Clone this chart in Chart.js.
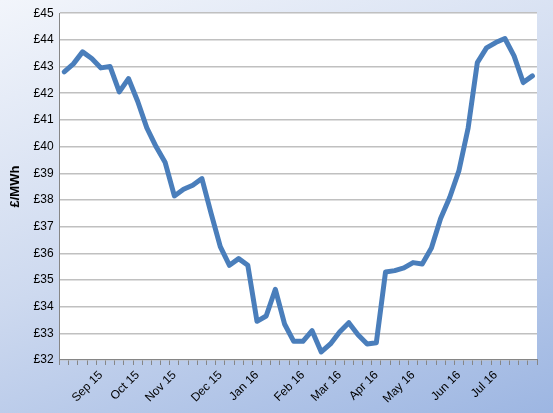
<!doctype html>
<html>
  <head>
    <script src="https://cdn.jsdelivr.net/npm/chart.js"></script>
    <style>
      html, body { margin: 0; padding: 0; }
      body {
        width: 553px; height: 413px; overflow: hidden;
        background: linear-gradient(160deg, #f2f5fb 0%, #cdd9ef 50%, #9db6e2 100%);
      }
      canvas { display: block; width: 553px; height: 413px; }
    </style>
  </head>
  <body>
    <canvas id="chart" width="553" height="413"></canvas>
    <script>
      const monthLabels = { 4: 'Sep 15', 8: 'Oct 15', 12: 'Nov 15', 17: 'Dec 15', 21: 'Jan 16', 26: 'Feb 16',
        30: 'Mar 16', 34: 'Apr 16', 38: 'May 16', 43: 'Jun 16', 47: 'Jul 16' };
      const prices = [42.8, 43.1, 43.55, 43.3, 42.95, 43.0, 42.05, 42.55, 41.7, 40.7, 40.0, 39.4, 38.15,
        38.4, 38.55, 38.8, 37.5, 36.25, 35.55, 35.8, 35.55, 33.45, 33.65, 34.65, 33.35, 32.7, 32.7, 33.1,
        32.3, 32.6, 33.05, 33.4, 32.95, 32.6, 32.65, 35.3, 35.35, 35.45, 35.65, 35.6, 36.2, 37.3, 38.1,
        39.1, 40.7, 43.15, 43.7, 43.9, 44.05, 43.4, 42.4, 42.65];
      const labels = prices.map((_, i) => monthLabels[i] || '');

      const plotBg = {
        id: 'plotBg',
        beforeDraw(chart) {
          const { ctx, chartArea: a } = chart;
          ctx.save();
          ctx.fillStyle = '#ffffff';
          ctx.fillRect(a.left, a.top, a.right - a.left, a.bottom - a.top);
          ctx.restore();
        },
      };

      new Chart(document.getElementById('chart'), {
        type: 'line',
        data: {
          labels: labels,
          datasets: [{
            data: prices,
            borderColor: '#4a7ebb',
            borderWidth: 5,
            pointRadius: 0,
            tension: 0,
            borderJoinStyle: 'round',
            borderCapStyle: 'round',
          }],
        },
        options: {
          responsive: false,
          animation: false,
          devicePixelRatio: 1,
          layout: { padding: { top: 9, right: 16, left: 4, bottom: 4 } },
          plugins: { legend: { display: false }, tooltip: { enabled: false } },
          scales: {
            x: {
              offset: true,
              grid: { offset: true, drawOnChartArea: false, tickLength: 5, tickColor: '#868686' },
              border: { color: '#868686' },
              ticks: {
                autoSkip: false, maxRotation: 45, minRotation: 45,
                color: '#000', font: { family: 'Liberation Sans', size: 12 },
              },
            },
            y: {
              min: 32, max: 45,
              grid: { color: '#c0c0c0', lineWidth: 1.5, drawTicks: false },
              border: { color: '#868686' },
              ticks: {
                stepSize: 1, autoSkip: false, padding: 6, color: '#000',
                font: { family: 'Liberation Sans', size: 12 },
                callback: (v) => '£' + v,
              },
              title: {
                display: true, text: '£/MWh', color: '#000',
                font: { family: 'Liberation Sans', size: 13, weight: 'bold' },
              },
            },
          },
        },
        plugins: [plotBg],
      });
    </script>
  </body>
</html>
